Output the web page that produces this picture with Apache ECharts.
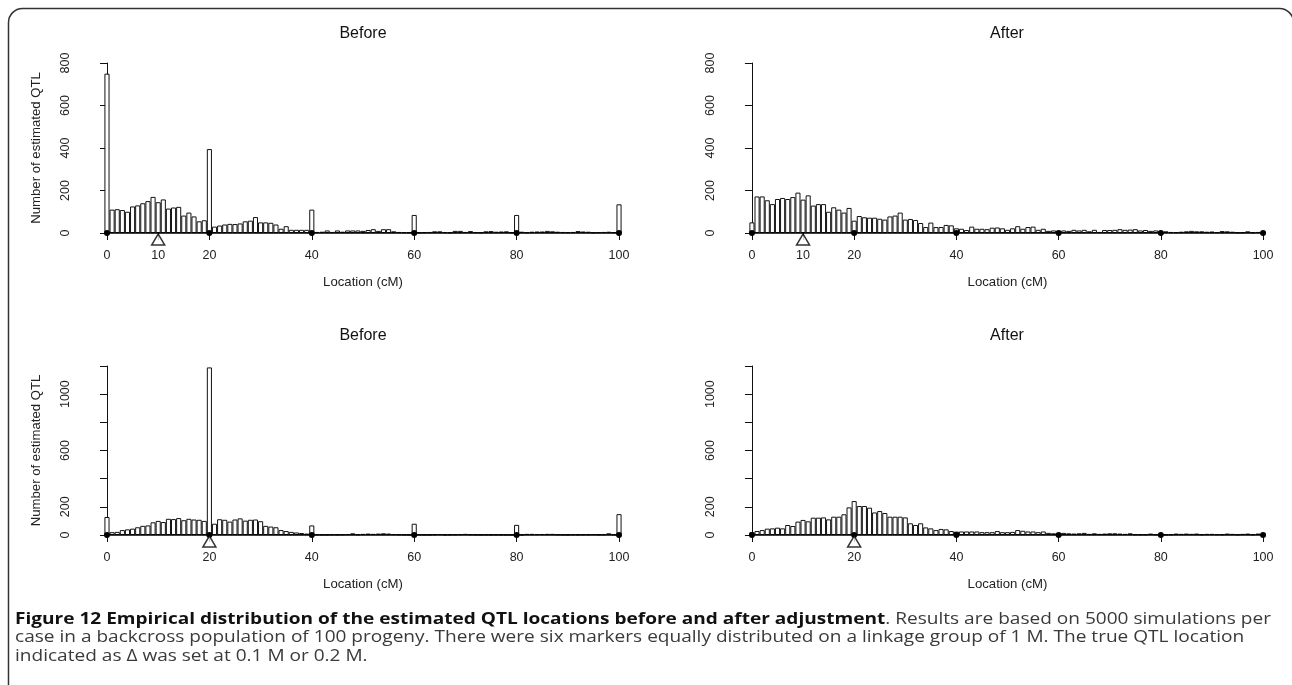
<!DOCTYPE html>
<html><head><meta charset="utf-8">
<script src="https://cdn.jsdelivr.net/npm/echarts@6/dist/echarts.min.js"></script>
<style>html,body{margin:0;padding:0;background:#fff}#c{width:1292px;height:685px}</style>
</head><body><div id="c"></div>
<script>
// ---------- DATA ----------
const binCenters = [0,1,2,3,4,5,6,7,8,9,10,11,12,13,14,15,16,17,18,19,20,21,22,23,24,25,26,27,28,29,30,31,32,33,34,35,36,37,38,39,40,41,42,43,44,45,46,47,48,49,50,51,52,53,54,55,56,57,58,59,60,61,62,63,64,65,66,67,68,69,70,71,72,73,74,75,76,77,78,79,80,81,82,83,84,85,86,87,88,89,90,91,92,93,94,95,96,97,98,99,100];
const markers = [0,20,40,60,80,100];
const qtlTop = 10;
const qtlBottom = 20;

const beforeQ10 = [750,
 110,112,108,100,125,130,140,150,170,145,158,115,120,123,82,96,78,55,60,
 395,
 30,35,40,43,42,45,55,58,75,50,50,48,40,20,32,15,15,15,15,
 110,
 5,6,12,5,12,6,12,12,12,10,14,18,10,18,18,8,5,4,3,
 85,
 3,4,5,8,8,4,3,10,10,5,9,4,3,8,9,6,7,8,3,
 85,
 6,3,6,7,7,10,8,6,5,4,5,9,7,6,3,4,5,6,4,
 135];
const afterQ10 = [50,
 172,172,154,136,160,165,160,169,190,157,177,129,136,136,100,121,110,96,118,
 58,
 80,74,72,72,67,63,78,82,96,63,66,61,47,28,49,28,28,38,36,
 22,
 20,14,30,20,20,18,25,26,22,15,22,32,20,28,30,15,20,10,12,
 10,
 12,10,15,12,15,8,15,5,14,14,15,18,15,16,18,12,14,10,12,
 10,
 8,5,4,6,8,10,8,8,6,7,4,9,8,6,3,3,8,3,5,
 8];
const beforeQ20 = [128,
 20,22,35,40,45,55,65,68,90,100,92,115,113,120,105,115,110,108,100,
 1190,
 80,112,108,95,110,118,102,108,110,98,65,60,55,35,28,22,18,14,10,
 68,
 4,3,3,5,4,5,6,12,5,8,10,8,10,12,10,6,5,4,3,
 80,
 4,3,3,5,7,3,4,5,6,8,5,4,3,4,3,4,3,3,2,
 72,
 3,8,8,7,7,8,8,5,4,3,5,4,5,5,6,4,5,12,4,
 148];
const afterQ20 = [20,
 28,35,45,47,52,47,71,64,95,107,97,123,123,125,111,130,130,147,196,
 241,
 206,206,194,160,170,156,130,130,130,125,83,71,83,54,47,35,43,40,28,
 24,
 25,25,25,25,20,20,20,28,20,20,22,35,30,25,25,20,25,15,12,
 12,
 15,12,10,12,15,8,12,8,10,12,12,10,8,12,5,5,5,10,5,
 5,
 3,5,10,8,10,8,10,5,8,8,6,5,10,8,5,8,10,5,10,
 12];

const xLabelsTop = [0,10,20,40,60,80,100];
const xLabelsBottom = [0,20,40,60,80,100];
const yTicksTop = [0,200,400,600,800];
const yLabelsTop = [0,200,400,600,800];
const yTicksBottom = [0,200,400,600,800,1000,1200];
const yLabelsBottom = [0,200,600,1000];
const panelTitles = ['Before','After','Before','After'];
const xAxisTitle = 'Location (cM)';
const yAxisTitle = 'Number of estimated QTL';
const captionBold = 'Figure 12 Empirical distribution of the estimated QTL locations before and after adjustment';
const captionLines = [
  '. Results are based on 5000 simulations per',
  'case in a backcross population of 100 progeny. There were six markers equally distributed on a linkage group of 1 M. The true QTL location',
  'indicated as Δ was set at 0.1 M or 0.2 M.'
];

// ---------- LAYOUT ----------
const FONT = '"Liberation Sans", Arial, sans-serif';
const panels = [
  {grid:{left:86.5, right:652.5, top:63, bottom:452}, vals:beforeQ10, qtl:qtlTop, xl:xLabelsTop, yt:yTicksTop, yl:yLabelsTop, ymax:800, yname:true},
  {grid:{left:731.5, right:8.5, top:63, bottom:452}, vals:afterQ10, qtl:qtlTop, xl:xLabelsTop, yt:yTicksTop, yl:yLabelsTop, ymax:800, yname:false},
  {grid:{left:86.5, right:652.5, top:366, bottom:150}, vals:beforeQ20, qtl:qtlBottom, xl:xLabelsBottom, yt:yTicksBottom, yl:yLabelsBottom, ymax:1200, yname:true},
  {grid:{left:731.5, right:8.5, top:366, bottom:150}, vals:afterQ20, qtl:qtlBottom, xl:xLabelsBottom, yt:yTicksBottom, yl:yLabelsBottom, ymax:1200, yname:false}
];

const grid = [], xAxis = [], yAxis = [], series = [];
panels.forEach((p, i) => {
  grid.push(Object.assign({containLabel:false}, p.grid));
  xAxis.push({
    type:'value', gridIndex:i, min:-4, max:104,
    axisLine:{show:false},
    splitLine:{show:false},
    axisTick:{show:true, customValues:p.xl, length:7, lineStyle:{color:'#111', width:1}},
    axisLabel:{customValues:p.xl, margin:16, color:'#222', fontFamily:FONT, fontSize:12.5, formatter:v => String(v)},
    name:xAxisTitle, nameLocation:'middle', nameGap:43,
    nameTextStyle:{color:'#222', fontFamily:FONT, fontSize:13.2}
  });
  yAxis.push({
    type:'value', gridIndex:i, min:0, max:p.ymax,
    axisLine:{show:true, lineStyle:{color:'#111', width:1}},
    splitLine:{show:false},
    axisTick:{show:true, customValues:p.yt, length:7, lineStyle:{color:'#111', width:1}},
    axisLabel:{customValues:p.yl, rotate:90, margin:14, color:'#222', fontFamily:FONT, fontSize:12.5, formatter:v => String(v)},
    name:p.yname ? yAxisTitle : '', nameLocation:'middle', nameGap:44,
    nameTextStyle:{color:'#222', fontFamily:FONT, fontSize:13.2}
  });
  series.push({
    type:'bar', xAxisIndex:i, yAxisIndex:i,
    data: binCenters.map((x, k) => [x, p.vals[k]]),
    barWidth:5.1, barGap:'-100%',
    itemStyle:{color:'#fff', borderColor:'#111', borderWidth:1},
    emphasis:{disabled:true}, animation:false, z:2
  });
  series.push({
    type:'line', xAxisIndex:i, yAxisIndex:i,
    data: markers.map(m => [m, 0]),
    symbol:'circle', symbolSize:6, clip:false,
    lineStyle:{color:'#000', width:1.6},
    itemStyle:{color:'#000'},
    emphasis:{disabled:true}, animation:false, z:5
  });
  series.push({
    type:'scatter', xAxisIndex:i, yAxisIndex:i,
    data:[[p.qtl, 0]],
    symbol:'triangle', symbolSize:[13,11], symbolOffset:[0,6.5], clip:false,
    itemStyle:{color:'#fff', borderColor:'#000', borderWidth:1.5},
    emphasis:{disabled:true}, animation:false, z:6
  });
});

const titlePos = [[363,34],[1007,34],[363,336],[1007,336]];
const graphic = [
  {type:'rect', shape:{x:8.5, y:8.5, width:1285, height:720, r:14}, style:{fill:'none', stroke:'#333', lineWidth:1.5}, z:0, silent:true}
];
titlePos.forEach((t, i) => graphic.push({
  type:'text', x:t[0], y:t[1],
  style:{text:panelTitles[i], fill:'#111', font:'16px '+FONT, textAlign:'center', textVerticalAlign:'middle'}
}));
const CAPF = '"Open Sans", "Liberation Sans", sans-serif';
const capScaleX = 1.155;
const capSize = 16.5;
const capY = [619, 637.5, 656];
graphic.push({
  type:'text', x:15, y:capY[0], scaleX:capScaleX,
  style:{
    text:'{b|' + captionBold + '}{r|' + captionLines[0] + '}',
    textVerticalAlign:'middle',
    rich:{
      b:{fontFamily:CAPF, fontSize:capSize, fontWeight:'bold', fill:'#111'},
      r:{fontFamily:CAPF, fontSize:capSize, fill:'#3a3a3a'}
    }
  }
});
graphic.push({
  type:'text', x:15, y:capY[1], scaleX:capScaleX,
  style:{text:captionLines[1], textVerticalAlign:'middle', font:capSize+'px '+CAPF, fill:'#3a3a3a'}
});
graphic.push({
  type:'text', x:15, y:capY[2], scaleX:capScaleX,
  style:{text:captionLines[2], textVerticalAlign:'middle', font:capSize+'px '+CAPF, fill:'#3a3a3a'}
});

const chart = echarts.init(document.getElementById('c'));
chart.setOption({
  backgroundColor:'#fff',
  animation:false,
  grid, xAxis, yAxis, series, graphic
});
</script></body></html>
